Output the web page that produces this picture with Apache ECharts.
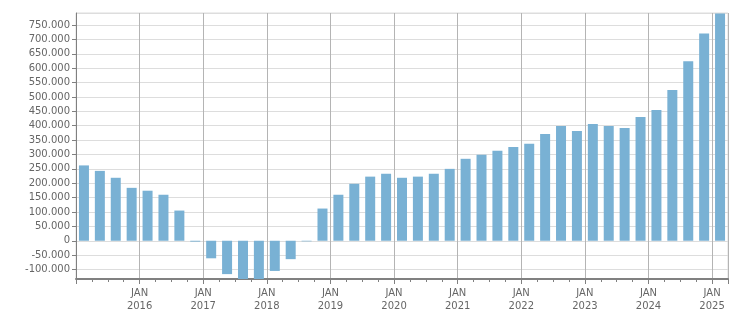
<!DOCTYPE html>
<html>
<head>
<meta charset="utf-8">
<script src="https://cdn.jsdelivr.net/npm/echarts@6/dist/echarts.min.js"></script>
<style>html,body{margin:0;padding:0;background:#fff;}#c{width:751px;height:313px;}</style>
</head>
<body>
<div id="c"></div>
<script>
// Quarterly values, Q1 2015 .. Q1 2025
var quarters = ['2015Q1','2015Q2','2015Q3','2015Q4','2016Q1','2016Q2','2016Q3','2016Q4','2017Q1','2017Q2','2017Q3','2017Q4','2018Q1','2018Q2','2018Q3','2018Q4','2019Q1','2019Q2','2019Q3','2019Q4','2020Q1','2020Q2','2020Q3','2020Q4','2021Q1','2021Q2','2021Q3','2021Q4','2022Q1','2022Q2','2022Q3','2022Q4','2023Q1','2023Q2','2023Q3','2023Q4','2024Q1','2024Q2','2024Q3','2024Q4','2025Q1'];
var values = [262000,243000,219000,184000,174000,160000,105000,-3000,-61000,-116000,-134000,-138000,-105000,-64000,-2000,112000,160000,198000,223000,233000,219000,223000,233000,250000,285000,299000,313000,326000,337000,371000,399000,382000,406000,399000,392000,430000,455000,524000,624000,721000,790000];
var yearLabels = ['2015','2016','2017','2018','2019','2020','2021','2022','2023','2024','2025'];

var chart = echarts.init(document.getElementById('c'));
var data = values.map(function(v, i){ return [i + 0.5, v]; });
function fmt(v){
  if (Math.abs(v) % 50000 !== 0) return '';
  var s = Math.round(Math.abs(v)).toString().replace(/\B(?=(\d{3})+(?!\d))/g, '.');
  return (v < 0 ? '-' : '') + s;
}
var font = 'DejaVu Sans';
chart.setOption({
  animation: false,
  grid: {left: 76, right: 23, top: 13, bottom: 32, containLabel: false,
         show: true, borderColor: '#dddddd', borderWidth: 1},
  xAxis: {
    type: 'value', min: 0, max: quarters.length, interval: 4,
    axisLine: {show: true, onZero: false, lineStyle: {color: '#808080', width: 2}},
    axisTick: {show: true, length: 5, lineStyle: {color: '#808080'}},
    minorTick: {show: true, splitNumber: 4, length: 3, lineStyle: {color: '#808080'}},
    splitLine: {show: true, lineStyle: {color: '#b4b4b4', width: 1}},
    axisLabel: {
      color: '#666', fontFamily: font, fontSize: 10, lineHeight: 13, margin: 8,
      showMinLabel: false, showMaxLabel: false,
      formatter: function(v){
        if (v > 0 && v % 4 === 0 && v / 4 < yearLabels.length) return 'JAN\n' + yearLabels[v / 4];
        return '';
      }
    }
  },
  yAxis: {
    type: 'value', min: -133000, max: 792000, splitNumber: 18,
    axisLine: {show: true, lineStyle: {color: '#808080', width: 1}},
    axisTick: {show: true, length: 4, lineStyle: {color: '#808080'}},
    splitLine: {show: true, lineStyle: {color: '#dddddd', width: 1}},
    axisLabel: {color: '#666', fontFamily: font, fontSize: 10, margin: 6,
      showMinLabel: false, showMaxLabel: false, formatter: fmt}
  },
  series: [{
    type: 'bar', data: data, barWidth: 10, clip: true,
    itemStyle: {color: '#79b1d4'}
  }]
});
</script>
</body>
</html>
